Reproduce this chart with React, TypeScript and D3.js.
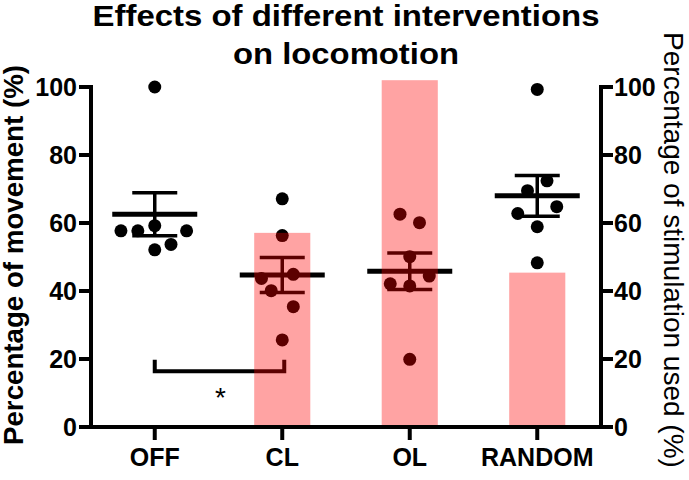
import React from "react";
import * as d3 from "d3";

const categories = ["OFF", "CL", "OL", "RANDOM"];

// Percentage of movement, individual animals (left axis)
const movementOFF = [100, 57.7, 57.7, 59.2, 57.7, 53.7, 52.1];
const movementCL = [67.1, 56.3, 43.7, 44.9, 40.1, 35.4, 25.6];
const movementOL = [62.6, 60.1, 50.1, 42.1, 41.5, 44.4, 19.9];
const movementRANDOM = [99.3, 72.4, 69.5, 62.8, 64.8, 58.9, 48.3];

// horizontal scatter slot of each point (in dot radii)
const jitterOFF = [0, -5.2, -2.6, 0, 4.9, 2.5, 0];
const jitterCL = [0, 0, -3.2, 1.7, -1.7, 1.7, 0];
const jitterOL = [-1.5, 1.5, 0, -3, 0, 3, 0];
const jitterRANDOM = [0, 1.5, -1.5, -3, 3, 0, 0];

// Percentage of stimulation used (right axis)
const stimCategories = ["CL", "OL", "RANDOM"];
const stimulationUsed = [57.1, 102, 45.4];

const leftTicks = [0, 20, 40, 60, 80, 100];
const rightTicks = [0, 20, 40, 60, 80, 100];

// significance bracket OFF vs CL
const bracketFrom = "OFF";
const bracketTo = "CL";
const bracketLevel = 16.4;
const bracketTip = 19.8;
const bracketLabel = "*";

const titleLines = ["Effects of different interventions", "on locomotion"];
const titleWidths = [507, 226];
const leftLabel = "Percentage of movement (%)";
const rightLabel = "Percentage of stimulation used (%)";

const FONT = "'Liberation Sans', Arial, Helvetica, sans-serif";

export default function App() {
  const W = 689;
  const H = 480;
  const xL = 91;
  const xR = 601;
  const yTop = 87;
  const yBot = 427;

  const y = d3.scaleLinear().domain([0, 100]).range([yBot, yTop]);
  const yR = d3.scaleLinear().domain([0, 100]).range([yBot, yTop]);
  const x = d3.scaleBand().domain(categories).range([xL, xR]).padding(0);
  const bw = x.bandwidth();
  const cx = (c: string) => (x(c) as number) + bw / 2;

  const groups = [
    { cat: "OFF", vals: movementOFF, jit: jitterOFF },
    { cat: "CL", vals: movementCL, jit: jitterCL },
    { cat: "OL", vals: movementOL, jit: jitterOL },
    { cat: "RANDOM", vals: movementRANDOM, jit: jitterRANDOM },
  ];

  const r = 6.5;
  const meanHalf = 42.5;
  const capHalf = 22.5;
  const barW = bw * 0.44;
  const tickLen = 12;

  return (
    <svg
      width={W}
      height={H}
      style={{ position: "absolute", left: 0, top: 0, background: "#fff" }}
      fontFamily={FONT}
    >
      <rect width={W} height={H} fill="#fff" />
      {/* title */}
      {titleLines.map((t, i) => (
        <text
          key={t}
          x={346}
          y={26 + i * 38}
          textAnchor="middle"
          fontSize={30}
          fontWeight="bold"
          fill="#000"
          textLength={titleWidths[i]}
          lengthAdjust="spacingAndGlyphs"
        >
          {t}
        </text>
      ))}

      {/* points + mean/SEM */}
      {groups.map((g) => {
        const c = cx(g.cat);
        const m = d3.mean(g.vals) as number;
        const sem = (d3.deviation(g.vals) as number) / Math.sqrt(g.vals.length);
        return (
          <g key={g.cat}>
            {g.vals.map((v, i) => (
              <circle key={i} cx={c + g.jit[i] * r} cy={y(v)} r={r} fill="#000" />
            ))}
            <line x1={c} x2={c} y1={y(m + sem)} y2={y(m - sem)} stroke="#000" strokeWidth={3.5} />
            <line x1={c - capHalf} x2={c + capHalf} y1={y(m + sem)} y2={y(m + sem)} stroke="#000" strokeWidth={3.5} />
            <line x1={c - capHalf} x2={c + capHalf} y1={y(m - sem)} y2={y(m - sem)} stroke="#000" strokeWidth={3.5} />
            <line x1={c - meanHalf} x2={c + meanHalf} y1={y(m)} y2={y(m)} stroke="#000" strokeWidth={5} />
          </g>
        );
      })}

      {/* significance bracket */}
      <path
        d={`M${cx(bracketFrom)},${y(bracketTip)} V${y(bracketLevel)} H${cx(bracketTo) + 2} V${y(bracketTip)}`}
        fill="none"
        stroke="#000"
        strokeWidth={4}
      />
      <text
        x={(cx(bracketFrom) + cx(bracketTo)) / 2 + 2}
        y={y(bracketLevel) + 36}
        textAnchor="middle"
        fontSize={28}
        fill="#000"
      >
        {bracketLabel}
      </text>

      {/* stimulation bars (translucent red, on top) */}
      {stimCategories.map((c, i) => (
        <rect
          key={c}
          x={cx(c) - barW / 2}
          y={yR(stimulationUsed[i])}
          width={barW}
          height={yBot - yR(stimulationUsed[i])}
          fill="#ff0000"
          fillOpacity={0.36}
        />
      ))}

      {/* left axis */}
      <path d={`M${xL - tickLen},${yTop} H${xL} V${yBot}`} fill="none" stroke="#000" strokeWidth={4} strokeLinejoin="miter" />
      {leftTicks.map((t) => (
        <g key={t}>
          <line x1={xL - tickLen} x2={xL} y1={y(t)} y2={y(t)} stroke="#000" strokeWidth={4} />
          <text x={xL - 14} y={y(t)} dy="0.36em" textAnchor="end" fontSize={25} fontWeight="bold" fill="#000">
            {t}
          </text>
        </g>
      ))}
      {/* right axis */}
      <path d={`M${xR + tickLen},${yTop} H${xR} V${yBot}`} fill="none" stroke="#000" strokeWidth={4} strokeLinejoin="miter" />
      {rightTicks.map((t) => (
        <g key={t}>
          <line x1={xR} x2={xR + tickLen} y1={yR(t)} y2={yR(t)} stroke="#000" strokeWidth={4} />
          <text x={xR + 13} y={yR(t)} dy="0.36em" textAnchor="start" fontSize={25} fontWeight="bold" fill="#000">
            {t}
          </text>
        </g>
      ))}
      {/* x axis */}
      <line x1={xL - tickLen} x2={xR + tickLen} y1={yBot} y2={yBot} stroke="#000" strokeWidth={4} />
      {categories.map((c) => (
        <g key={c}>
          <line x1={cx(c)} x2={cx(c)} y1={yBot} y2={yBot + 13} stroke="#000" strokeWidth={4} />
          <text x={cx(c)} y={466} textAnchor="middle" fontSize={25} fontWeight="bold" fill="#000">
            {c}
          </text>
        </g>
      ))}

      {/* axis titles */}
      <text
        transform={`translate(23, 255) rotate(-90)`}
        textAnchor="middle"
        fontSize={27}
        fontWeight="bold"
        fill="#000"
        textLength={380}
        lengthAdjust="spacingAndGlyphs"
      >
        {leftLabel}
      </text>
      <text
        transform={`translate(664, 250) rotate(90)`}
        textAnchor="middle"
        fontSize={28}
        fill="#000"
      >
        {rightLabel}
      </text>
    </svg>
  );
}
